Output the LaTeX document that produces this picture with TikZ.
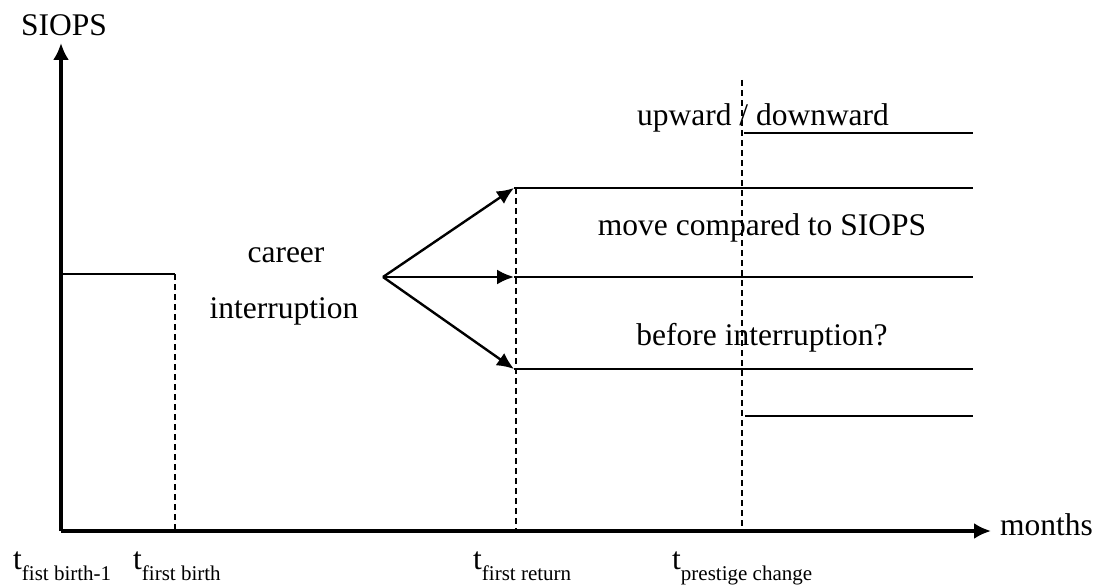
\documentclass[tikz,border=0pt]{standalone}
\usepackage{fontspec}
\setmainfont{Liberation Serif}
\usetikzlibrary{arrows.meta}
\newcommand{\tsub}[1]{t\raisebox{-11pt}{\fontsize{21}{24}\selectfont #1}}
\tikzset{
  txt/.style={inner sep=0pt,anchor=base,font=\fontsize{31.5}{36}\selectfont},
  axis/.style={line width=3.3pt,-{Latex[length=17pt,width=16pt]}},
  level/.style={line width=2.2pt},
  mark line/.style={line width=1.7pt,dash pattern=on 6pt off 4pt},
  arr/.style={line width=2.4pt,-{Latex[length=17pt,width=15pt]}}
}
\begin{document}
\begin{tikzpicture}[x=1pt,y=-1pt]
  \useasboundingbox (0,0) rectangle (1095,586);
  \coordinate (O) at (61,531);
  \coordinate (ytop) at (61,43);
  \coordinate (xend) at (991,531);
  \draw[axis] (O) -- (ytop);
  \draw[axis] (O) -- (xend);
  \node[txt] (siops) at (64,36) {SIOPS};
  \node[txt,anchor=base west] (months) at (1000,535) {months};
  % before birth
  \coordinate (lvl0) at (61,274);
  \coordinate (birth) at (175,274);
  \draw[level] (lvl0) -- (birth);
  \draw[mark line] (birth) -- (175,531);
  \node[txt] (career) at (286,262) {career};
  \node[txt] (interr) at (284,318) {interruption};
  % return
  \coordinate (split) at (383,277);
  \coordinate (up) at (514,188);
  \coordinate (same) at (514,277);
  \coordinate (down) at (514,369);
  \draw[arr] (split) -- (up);
  \draw[arr] (split) -- (same);
  \draw[arr] (split) -- (down);
  \draw[mark line] (516,188) -- (516,531);
  \draw[level] (up) -- (973,188);
  \draw[level] (same) -- (973,277);
  \draw[level] (down) -- (973,369);
  % prestige change
  \draw[mark line] (742,80) -- (742,531);
  \draw[level] (744,133) -- (973,133);
  \draw[level] (745,416) -- (973,416);
  \node[txt] (updown) at (763,125) {upward / downward};
  \node[txt] (move) at (762,235) {move compared to SIOPS};
  \node[txt] (before) at (762,345) {before interruption?};
  % time points
  \node[txt,anchor=base west] (t0) at (13,569) {\tsub{fist birth-1}};
  \node[txt,anchor=base west] (t1) at (133,569) {\tsub{first birth}};
  \node[txt,anchor=base west] (t2) at (473,569) {\tsub{first return}};
  \node[txt,anchor=base west] (t3) at (672,569) {\tsub{prestige change}};
\end{tikzpicture}
\end{document}
